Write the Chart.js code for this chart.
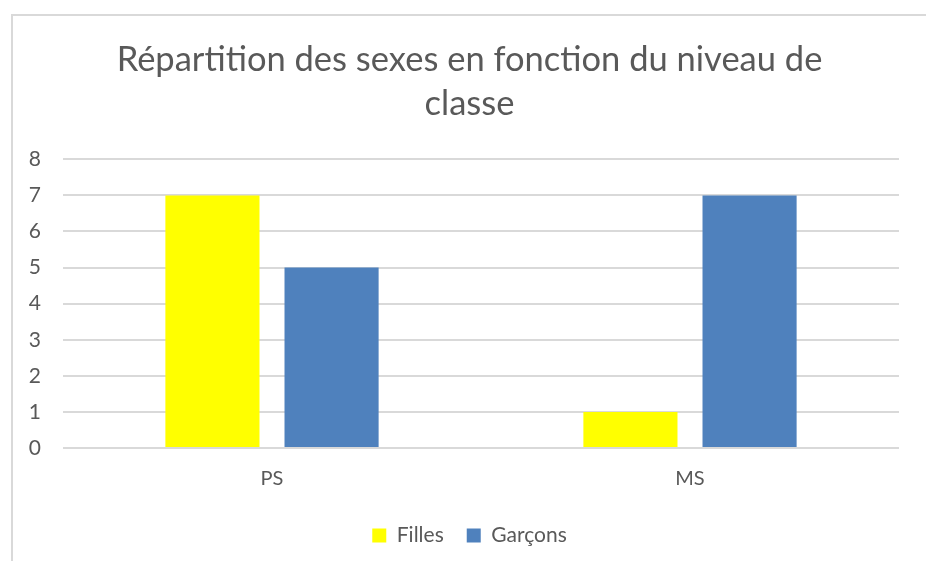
<!DOCTYPE html>
<html>
<head>
<meta charset="utf-8">
<script src="https://cdn.jsdelivr.net/npm/chart.js@4"></script>
<style>
  html, body { margin: 0; padding: 0; background: #fff; }
  #frame {
    position: absolute; left: 11px; top: 14px;
    width: 915px; height: 547px;
    border-left: 2px solid #d9d9d9; border-top: 2px solid #d9d9d9;
  }
  #wrap { position: absolute; left: 0; top: 0; width: 913px; height: 545px; }
</style>
</head>
<body>
<div id="frame"><div id="wrap"><canvas id="chart"></canvas></div></div>
<script>
/* ---------- data ---------- */
const categories = ["PS", "MS"];
const filles = [7, 1];
const garcons = [5, 7];
const seriesNames = ["Filles", "Garçons"];
const titleLines = ["Répartition des sexes en fonction du niveau de", "classe"];

const grey = "#595959";
const font = "Lato, 'Open Sans', sans-serif";

new Chart(document.getElementById("chart"), {
  type: "bar",
  data: {
    labels: categories,
    datasets: [
      { label: seriesNames[0], data: filles, backgroundColor: "#ffff00" },
      { label: seriesNames[1], data: garcons, backgroundColor: "#4f81bd" },
    ],
  },
  options: {
    responsive: true,
    maintainAspectRatio: false,
    animation: false,
    layout: { padding: { left: 0, right: 0, top: 0, bottom: 5 } },
    datasets: { bar: { categoryPercentage: 0.57, barPercentage: 0.79 } },
    scales: {
      x: {
        grid: { display: false },
        border: { display: false },
        ticks: { color: grey, font: { family: font, size: 20 }, padding: 11 },
      },
      y: {
        min: 0,
        max: 8,
        afterFit: (s) => { s.width = 50; },
        grid: { color: "#d9d9d9", lineWidth: 2, drawTicks: false },
        border: { display: false },
        ticks: { stepSize: 1, color: grey, font: { family: font, size: 21 }, padding: 22 },
      },
      // empty right margin so the title stays centred on the whole frame
      gap: {
        position: "right",
        afterFit: (s) => { s.width = 27; },
        grid: { display: false },
        border: { display: false },
        ticks: { display: false },
      },
    },
    plugins: {
      tooltip: { enabled: false },
      title: {
        display: true,
        text: titleLines,
        color: grey,
        font: { family: font, size: 34.5, weight: "normal", lineHeight: 1.28 },
        padding: { top: 22, bottom: 33 },
      },
      legend: {
        position: "bottom",
        labels: {
          color: grey,
          font: { family: font, size: 21 },
          boxWidth: 14,
          boxHeight: 14,
          padding: 23,
        },
      },
    },
  },
});
</script>
</body>
</html>
